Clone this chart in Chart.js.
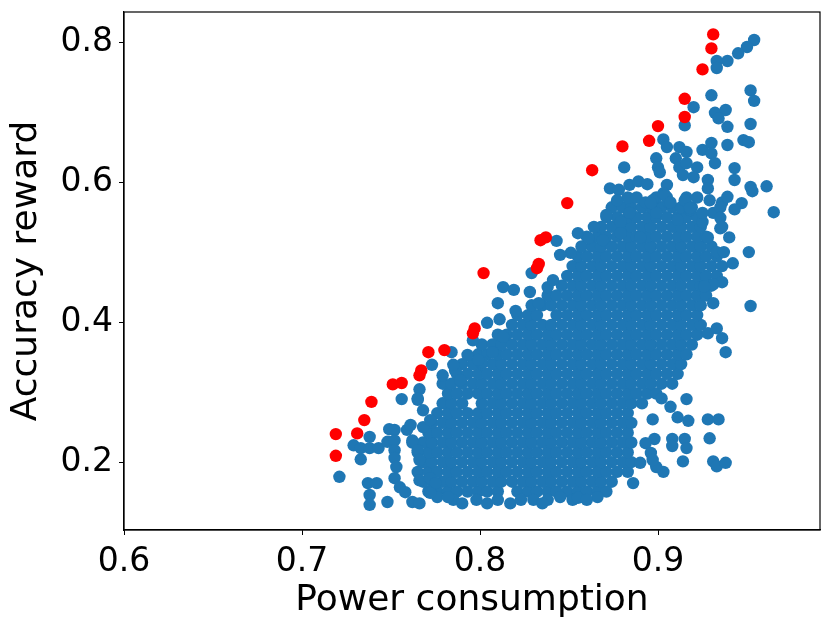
<!DOCTYPE html>
<html>
<head>
<meta charset="utf-8">
<script src="https://cdn.jsdelivr.net/npm/chart.js@4.4.1/dist/chart.umd.min.js"></script>
<style>
  html, body { margin: 0; padding: 0; background: #fff; }
  canvas { display: block; }
</style>
</head>
<body>
<canvas id="chart" width="831" height="630"></canvas>
<script>
// Pareto-front points (red)
const paretoPower = [0.719, 0.719, 0.731, 0.735, 0.739, 0.751, 0.756, 0.766, 0.767, 0.771, 0.780, 0.796, 0.797, 0.802,
  0.832, 0.833, 0.834, 0.837, 0.849, 0.863, 0.880, 0.895, 0.900, 0.915, 0.915, 0.925, 0.930, 0.931];
const paretoAccuracy = [0.240, 0.209, 0.241, 0.260, 0.286, 0.311, 0.313, 0.324, 0.331, 0.357, 0.360, 0.384, 0.391, 0.470,
  0.477, 0.483, 0.517, 0.521, 0.570, 0.617, 0.651, 0.659, 0.680, 0.693, 0.719, 0.761, 0.791, 0.811];

// dense body of the sampled configurations, read row by row
const coreAccuracy = [0.158, 0.172, 0.186, 0.200, 0.214, 0.228, 0.242, 0.256, 0.270, 0.284, 0.298, 0.312, 0.326, 0.340,
  0.354, 0.368, 0.382, 0.396, 0.410, 0.424, 0.438, 0.452, 0.466, 0.480, 0.494, 0.508, 0.522, 0.536, 0.550, 0.564, 0.578];
const corePower = [
  [0.771, 0.776, 0.782, 0.787, 0.793, 0.799, 0.804, 0.810, 0.821, 0.827, 0.832, 0.838, 0.843, 0.849, 0.855, 0.860, 0.866, 0.871],
  [0.768, 0.773, 0.779, 0.784, 0.790, 0.796, 0.801, 0.807, 0.812, 0.818, 0.824, 0.829, 0.835, 0.840, 0.846, 0.852, 0.857, 0.863, 0.868, 0.874],
  [0.765, 0.771, 0.776, 0.782, 0.787, 0.793, 0.799, 0.804, 0.810, 0.815, 0.821, 0.827, 0.832, 0.838, 0.843, 0.849, 0.855, 0.860, 0.866, 0.871, 0.877, 0.883],
  [0.768, 0.773, 0.779, 0.784, 0.790, 0.796, 0.801, 0.807, 0.812, 0.818, 0.824, 0.829, 0.835, 0.840, 0.846, 0.852, 0.857, 0.863, 0.868, 0.874, 0.880, 0.885],
  [0.765, 0.771, 0.776, 0.782, 0.787, 0.793, 0.799, 0.804, 0.810, 0.815, 0.821, 0.827, 0.832, 0.838, 0.843, 0.849, 0.855, 0.860, 0.866, 0.871, 0.877, 0.883],
  [0.762, 0.768, 0.773, 0.779, 0.784, 0.790, 0.796, 0.801, 0.807, 0.812, 0.818, 0.824, 0.829, 0.835, 0.840, 0.846, 0.852, 0.857, 0.863, 0.868, 0.874, 0.880, 0.885],
  [0.771, 0.776, 0.782, 0.787, 0.793, 0.799, 0.804, 0.810, 0.815, 0.821, 0.827, 0.832, 0.838, 0.843, 0.849, 0.855, 0.860, 0.866, 0.871, 0.877, 0.883],
  [0.773, 0.779, 0.784, 0.790, 0.796, 0.801, 0.807, 0.812, 0.818, 0.824, 0.829, 0.835, 0.840, 0.846, 0.852, 0.857, 0.863, 0.868, 0.874, 0.880, 0.885],
  [0.776, 0.782, 0.787, 0.793, 0.799, 0.804, 0.810, 0.815, 0.821, 0.827, 0.832, 0.838, 0.843, 0.849, 0.855, 0.860, 0.866, 0.871, 0.877, 0.883],
  [0.779, 0.784, 0.790, 0.801, 0.807, 0.812, 0.818, 0.824, 0.829, 0.835, 0.840, 0.846, 0.852, 0.857, 0.863, 0.868, 0.874, 0.880, 0.885, 0.891],
  [0.782, 0.787, 0.793, 0.799, 0.804, 0.810, 0.815, 0.821, 0.827, 0.832, 0.838, 0.843, 0.849, 0.855, 0.860, 0.866, 0.871, 0.877, 0.883, 0.888, 0.894, 0.899],
  [0.779, 0.784, 0.790, 0.796, 0.801, 0.807, 0.812, 0.818, 0.824, 0.829, 0.835, 0.840, 0.846, 0.852, 0.857, 0.863, 0.868, 0.874, 0.880, 0.885, 0.891, 0.896, 0.902, 0.908],
  [0.787, 0.793, 0.799, 0.804, 0.810, 0.815, 0.821, 0.827, 0.832, 0.838, 0.843, 0.849, 0.855, 0.860, 0.866, 0.871, 0.877, 0.883, 0.888, 0.894, 0.899, 0.905, 0.911],
  [0.790, 0.796, 0.801, 0.807, 0.812, 0.818, 0.824, 0.829, 0.835, 0.840, 0.846, 0.852, 0.857, 0.863, 0.868, 0.874, 0.880, 0.885, 0.891, 0.896, 0.902, 0.908, 0.913],
  [0.799, 0.804, 0.810, 0.815, 0.821, 0.827, 0.832, 0.838, 0.843, 0.849, 0.855, 0.860, 0.866, 0.871, 0.877, 0.883, 0.888, 0.894, 0.899, 0.905, 0.911, 0.916],
  [0.801, 0.807, 0.812, 0.818, 0.824, 0.829, 0.835, 0.840, 0.846, 0.852, 0.857, 0.863, 0.868, 0.874, 0.880, 0.885, 0.891, 0.896, 0.902, 0.908, 0.913, 0.919],
  [0.810, 0.815, 0.821, 0.827, 0.832, 0.838, 0.843, 0.849, 0.855, 0.860, 0.866, 0.871, 0.877, 0.883, 0.888, 0.894, 0.899, 0.905, 0.911, 0.916, 0.922],
  [0.818, 0.824, 0.829, 0.835, 0.840, 0.846, 0.852, 0.857, 0.863, 0.868, 0.874, 0.880, 0.885, 0.891, 0.896, 0.902, 0.908, 0.913, 0.919, 0.924],
  [0.821, 0.827, 0.832, 0.843, 0.849, 0.855, 0.860, 0.866, 0.871, 0.877, 0.883, 0.888, 0.894, 0.899, 0.905, 0.911, 0.916, 0.922],
  [0.829, 0.835, 0.840, 0.846, 0.852, 0.857, 0.863, 0.868, 0.874, 0.880, 0.885, 0.891, 0.896, 0.902, 0.908, 0.913, 0.919, 0.924],
  [0.838, 0.843, 0.849, 0.855, 0.860, 0.866, 0.871, 0.877, 0.883, 0.888, 0.894, 0.899, 0.905, 0.911, 0.916, 0.922, 0.927],
  [0.846, 0.852, 0.857, 0.863, 0.868, 0.874, 0.880, 0.885, 0.891, 0.896, 0.902, 0.908, 0.913, 0.919, 0.924, 0.930],
  [0.849, 0.855, 0.860, 0.866, 0.871, 0.877, 0.883, 0.888, 0.894, 0.899, 0.905, 0.911, 0.916, 0.922, 0.927, 0.933],
  [0.852, 0.857, 0.863, 0.868, 0.874, 0.880, 0.885, 0.891, 0.896, 0.902, 0.908, 0.913, 0.919, 0.924, 0.930, 0.936],
  [0.855, 0.860, 0.866, 0.871, 0.877, 0.883, 0.888, 0.894, 0.899, 0.905, 0.911, 0.916, 0.922, 0.927, 0.933],
  [0.857, 0.863, 0.868, 0.874, 0.880, 0.885, 0.891, 0.896, 0.902, 0.908, 0.913, 0.919, 0.924, 0.930],
  [0.860, 0.866, 0.871, 0.877, 0.883, 0.888, 0.894, 0.899, 0.905, 0.911, 0.916, 0.922, 0.927],
  [0.868, 0.874, 0.880, 0.885, 0.891, 0.896, 0.902, 0.908, 0.913, 0.919, 0.924],
  [0.871, 0.877, 0.883, 0.888, 0.894, 0.899, 0.905, 0.911, 0.916, 0.922],
  [0.874, 0.880, 0.885, 0.891, 0.896, 0.902, 0.908, 0.913, 0.919],
  [0.883, 0.888, 0.899, 0.905, 0.916, 0.922]
];

// scattered samples around the body: [power, accuracy]
const edgeSamples = [
  [0.954, 0.803], [0.950, 0.793], [0.945, 0.784], [0.939, 0.773], [0.933, 0.773], [0.933, 0.763], [0.930, 0.724],
  [0.952, 0.731], [0.954, 0.716], [0.920, 0.707], [0.932, 0.699], [0.938, 0.703], [0.934, 0.691], [0.939, 0.679],
  [0.952, 0.683], [0.915, 0.681], [0.903, 0.661], [0.905, 0.650], [0.912, 0.650], [0.916, 0.643], [0.925, 0.646],
  [0.930, 0.656], [0.930, 0.641], [0.932, 0.627], [0.948, 0.660], [0.951, 0.657], [0.939, 0.653], [0.899, 0.634],
  [0.900, 0.621], [0.901, 0.614], [0.910, 0.634], [0.912, 0.621], [0.916, 0.627], [0.922, 0.621], [0.914, 0.610],
  [0.920, 0.607], [0.928, 0.603], [0.943, 0.620], [0.943, 0.603], [0.952, 0.593], [0.953, 0.587], [0.961, 0.594],
  [0.965, 0.557], [0.881, 0.621], [0.873, 0.591], [0.878, 0.589], [0.877, 0.574], [0.884, 0.596], [0.889, 0.601],
  [0.894, 0.597], [0.905, 0.596], [0.903, 0.584], [0.906, 0.571], [0.893, 0.571], [0.897, 0.574], [0.915, 0.574],
  [0.918, 0.560], [0.928, 0.591], [0.929, 0.574], [0.936, 0.571], [0.939, 0.579], [0.947, 0.570], [0.943, 0.561],
  [0.931, 0.556], [0.925, 0.543], [0.935, 0.534], [0.940, 0.521], [0.951, 0.500], [0.871, 0.553], [0.884, 0.556],
  [0.899, 0.556], [0.911, 0.546], [0.855, 0.527], [0.843, 0.516], [0.851, 0.499], [0.845, 0.496], [0.864, 0.536],
  [0.861, 0.520], [0.869, 0.517], [0.879, 0.543], [0.879, 0.527], [0.890, 0.521], [0.904, 0.581], [0.935, 0.564],
  [0.935, 0.549], [0.936, 0.536], [0.928, 0.521], [0.933, 0.500], [0.937, 0.500], [0.925, 0.556], [0.918, 0.563],
  [0.907, 0.571], [0.896, 0.570], [0.942, 0.484],
  [0.931, 0.427], [0.952, 0.423], [0.928, 0.384], [0.933, 0.391], [0.936, 0.377], [0.938, 0.357], [0.936, 0.457],
  [0.931, 0.454], [0.926, 0.451], [0.902, 0.291], [0.907, 0.279], [0.916, 0.290], [0.897, 0.261], [0.911, 0.264],
  [0.917, 0.259], [0.928, 0.261], [0.934, 0.261], [0.898, 0.233], [0.908, 0.233], [0.908, 0.223], [0.915, 0.233],
  [0.916, 0.220], [0.929, 0.234], [0.914, 0.201], [0.931, 0.201], [0.933, 0.194], [0.938, 0.199], [0.893, 0.227],
  [0.896, 0.213], [0.903, 0.186], [0.899, 0.193], [0.890, 0.199], [0.897, 0.203], [0.886, 0.170],
  [0.829, 0.470], [0.838, 0.450], [0.841, 0.460], [0.813, 0.450], [0.819, 0.446], [0.810, 0.427], [0.820, 0.416],
  [0.811, 0.404], [0.804, 0.399], [0.828, 0.443], [0.833, 0.427], [0.796, 0.374], [0.784, 0.357], [0.793, 0.353],
  [0.773, 0.339], [0.779, 0.324], [0.786, 0.331], [0.801, 0.343], [0.807, 0.357], [0.813, 0.379], [0.799, 0.346],
  [0.785, 0.339], [0.789, 0.317], [0.756, 0.290], [0.765, 0.289], [0.766, 0.304], [0.768, 0.274],
  [0.749, 0.247], [0.752, 0.246], [0.759, 0.246], [0.738, 0.236], [0.729, 0.224], [0.733, 0.220], [0.738, 0.220],
  [0.743, 0.220], [0.748, 0.229], [0.752, 0.231], [0.752, 0.217], [0.752, 0.206], [0.753, 0.193], [0.733, 0.204],
  [0.721, 0.179], [0.737, 0.170], [0.742, 0.170], [0.738, 0.153], [0.738, 0.139], [0.748, 0.143], [0.752, 0.177],
  [0.755, 0.164], [0.758, 0.157], [0.762, 0.143], [0.766, 0.141], [0.766, 0.174], [0.772, 0.177], [0.775, 0.170],
  [0.776, 0.150], [0.772, 0.156], [0.785, 0.146], [0.762, 0.231], [0.765, 0.217], [0.766, 0.203], [0.768, 0.250],
  [0.772, 0.260], [0.761, 0.253], [0.765, 0.291],
  [0.798, 0.146], [0.804, 0.141], [0.810, 0.146], [0.817, 0.141], [0.830, 0.146], [0.838, 0.146], [0.845, 0.150],
  [0.852, 0.146], [0.855, 0.149], [0.866, 0.150], [0.790, 0.141], [0.823, 0.146], [0.835, 0.141], [0.860, 0.146],
  [0.782, 0.150]
];

const xTicks = [0.6, 0.7, 0.8, 0.9];
const yTicks = [0.2, 0.4, 0.6, 0.8];

const samplePoints = corePower
  .flatMap((row, i) => row.map((x) => ({ x, y: coreAccuracy[i] })))
  .concat(edgeSamples.map(([x, y]) => ({ x, y })));
const paretoPoints = paretoPower.map((x, i) => ({ x, y: paretoAccuracy[i] }));

const FONT = "'DejaVu Sans', sans-serif";

// matplotlib-style frame around the plot area
const frame = {
  id: "frame",
  afterDatasetsDraw(chart) {
    const { ctx, chartArea: a } = chart;
    ctx.save();
    ctx.strokeStyle = "#000";
    ctx.lineWidth = 1.2;
    ctx.strokeRect(a.left, a.top, a.right - a.left, a.bottom - a.top);
    ctx.restore();
  },
};

new Chart(document.getElementById("chart"), {
  type: "scatter",
  data: {
    datasets: [
      {
        label: "Pareto",
        data: paretoPoints,
        backgroundColor: "#ff0000",
        borderWidth: 0,
        pointRadius: 6.2,
        pointHoverRadius: 6.2,
      },
      {
        label: "Samples",
        data: samplePoints,
        backgroundColor: "#1f77b4",
        borderWidth: 0,
        pointRadius: 6.2,
        pointHoverRadius: 6.2,
      },
    ],
  },
  options: {
    responsive: false,
    animation: false,
    layout: { padding: { top: 12, right: 11, left: 0, bottom: 0 } },
    plugins: { legend: { display: false }, tooltip: { enabled: false } },
    scales: {
      x: {
        type: "linear",
        min: 0.6,
        max: 0.991,
        afterBuildTicks: (s) => { s.ticks = xTicks.map((v) => ({ value: v })); },
        afterFit: (s) => { s.height = 100; s.paddingLeft = 0; s.paddingRight = 0; },
        grid: { drawOnChartArea: false, drawTicks: true, tickLength: 5, color: "#000" },
        border: { display: true, color: "#000", width: 1.2 },
        ticks: {
          color: "#000",
          padding: 8,
          font: { family: FONT, size: 33 },
          callback: (v) => v.toFixed(1),
        },
        title: {
          display: true,
          text: "Power consumption",
          color: "#000",
          font: { family: FONT, size: 36 },
          padding: { top: 0, bottom: 8 },
        },
      },
      y: {
        type: "linear",
        min: 0.103,
        max: 0.843,
        afterBuildTicks: (s) => { s.ticks = yTicks.map((v) => ({ value: v })); },
        afterFit: (s) => { s.width = 124; s.paddingTop = 0; s.paddingBottom = 0; },
        grid: { drawOnChartArea: false, drawTicks: true, tickLength: 5, color: "#000" },
        border: { display: true, color: "#000", width: 1.2 },
        ticks: {
          color: "#000",
          padding: 6,
          font: { family: FONT, size: 33 },
          callback: (v) => v.toFixed(1),
        },
        title: {
          display: true,
          text: "Accuracy reward",
          color: "#000",
          font: { family: FONT, size: 36 },
          padding: { top: 5, bottom: 0 },
        },
      },
    },
  },
  plugins: [frame],
});
</script>
</body>
</html>
